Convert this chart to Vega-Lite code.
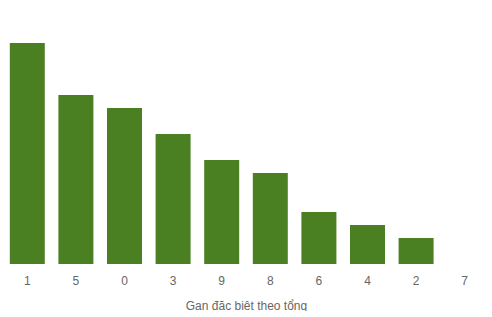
{
  "$schema": "https://vega.github.io/schema/vega-lite/v6.json",
  "width": 486,
  "height": 264,
  "padding": {"left": 3, "top": 0, "right": 3, "bottom": 0},
  "background": "white",
  "config": {"view": {"stroke": null}, "font": "Liberation Sans"},
  "data": {"values": [
    {"tong": "1", "gan": 17},
    {"tong": "5", "gan": 13},
    {"tong": "0", "gan": 12},
    {"tong": "3", "gan": 10},
    {"tong": "9", "gan": 8},
    {"tong": "8", "gan": 7},
    {"tong": "6", "gan": 4},
    {"tong": "4", "gan": 3},
    {"tong": "2", "gan": 2},
    {"tong": "7", "gan": 0}
  ]},
  "mark": {"type": "bar", "color": "#4a7f22"},
  "encoding": {
    "x": {"field": "tong", "type": "nominal", "sort": null,
      "scale": {"paddingInner": 0.28, "paddingOuter": 0.14},
      "axis": {"title": "Gan đặc biệt theo tổng", "labelAngle": 0, "ticks": false, "domain": false,
        "labelFontSize": 12, "labelColor": "#666666", "labelPadding": 11,
        "titleFontSize": 12, "titleColor": "#666666", "titleFontWeight": "normal", "titlePadding": 14}},
    "y": {"field": "gan", "type": "quantitative", "scale": {"domain": [0, 20.3], "nice": false}, "axis": null}
  }
}
